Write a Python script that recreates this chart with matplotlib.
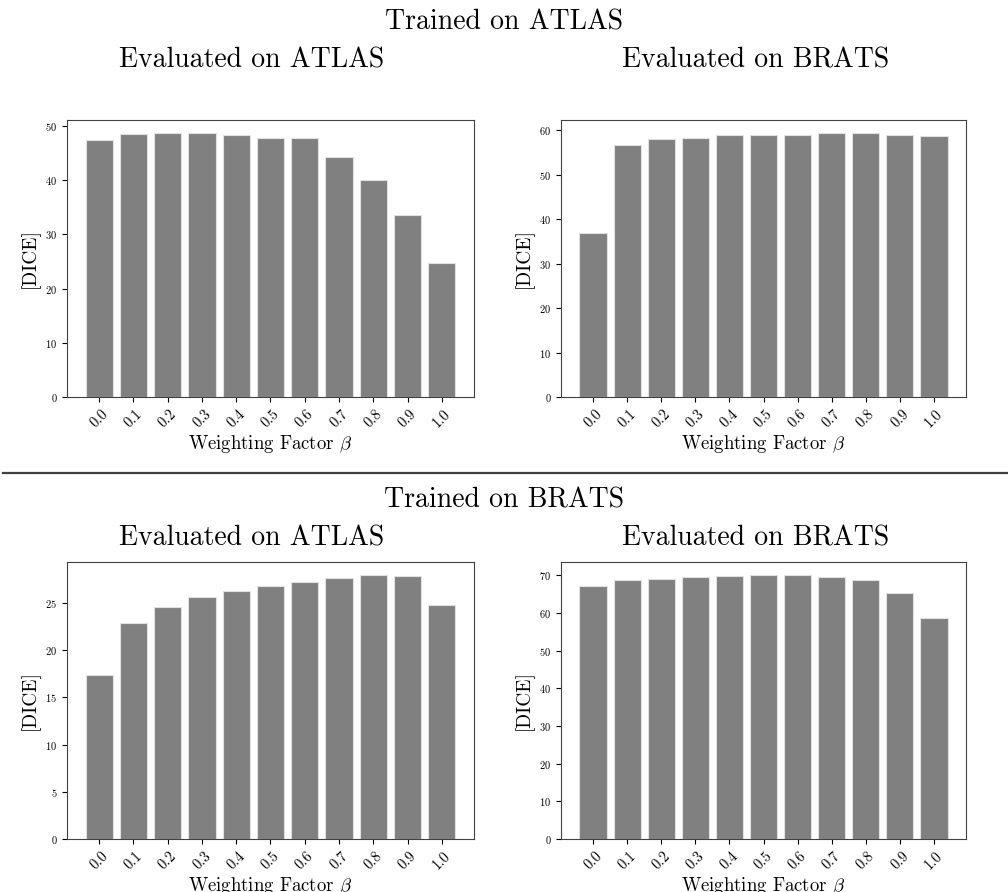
import matplotlib
matplotlib.use('Agg')
import matplotlib.pyplot as plt
import numpy as np

# --- dati: DICE per fattore beta ---
beta = ['0.0', '0.1', '0.2', '0.3', '0.4', '0.5', '0.6', '0.7', '0.8', '0.9', '1.0']

atlas_on_atlas = [47.4, 48.5, 48.65, 48.65, 48.3, 47.7, 47.7, 44.3, 40.1, 33.6, 24.8]
atlas_on_brats = [36.9, 56.7, 58.0, 58.3, 58.9, 59.0, 59.0, 59.3, 59.3, 58.9, 58.7]
brats_on_atlas = [17.35, 22.9, 24.6, 25.6, 26.3, 26.8, 27.25, 27.7, 27.95, 27.9, 24.8]
brats_on_brats = [67.2, 68.6, 69.1, 69.5, 69.7, 70.0, 70.0, 69.5, 68.6, 65.4, 58.6]

row_titles = ['Trained on ATLAS', 'Trained on BRATS']
col_titles = ['Evaluated on ATLAS', 'Evaluated on BRATS']

plt.rcParams['font.family'] = 'cmr10'
plt.rcParams['mathtext.fontset'] = 'cm'
plt.rcParams['axes.formatter.use_mathtext'] = True
plt.rcParams['axes.edgecolor'] = '#404040'

W, H = 1008, 892
fig = plt.figure(figsize=(W / 100, H / 100), dpi=100)


def px_axes(x0, y0, x1, y1):
    # coordinate in pixel (origine in alto a sinistra)
    return fig.add_axes([x0 / W, 1 - y1 / H, (x1 - x0) / W, (y1 - y0) / H])


def bar_panel(ax, values):
    x = np.arange(len(beta))
    ax.bar(x, values, width=0.8, color='gray', edgecolor='#e0e0e0', linewidth=0.8)
    ax.set_xticks(x)
    ax.set_xticklabels(beta, rotation=45, fontsize=10.5)
    ax.tick_params(axis='y', labelsize=7.5)
    ax.set_xlabel(r'Weighting Factor $\beta$', fontsize=13.5, labelpad=2)
    ax.set_ylabel('[DICE]', fontsize=14)
    ax.yaxis.set_label_coords(-0.068, 0.5)


panels = [[atlas_on_atlas, atlas_on_brats], [brats_on_atlas, brats_on_brats]]
xs = [(67, 474), (561, 966)]
ys = [(120, 397), (562, 839)]

for r in range(2):
    for c in range(2):
        ax = px_axes(xs[c][0], ys[r][0], xs[c][1], ys[r][1])
        bar_panel(ax, panels[r][c])

# titoli
title_base = [30, 508]
for r in range(2):
    fig.text(0.5, 1 - title_base[r] / H, row_titles[r], ha='center', va='baseline', fontsize=20)
    for c in range(2):
        fig.text(0.25 + 0.5 * c, 1 - (title_base[r] + 37) / H, col_titles[c],
                 ha='center', va='baseline', fontsize=20)

# linea di separazione
fig.add_artist(plt.Line2D([3 / W, 1], [1 - 473 / H, 1 - 473 / H], color='#404040', linewidth=1.6))

fig.savefig('out.png', dpi=100)
